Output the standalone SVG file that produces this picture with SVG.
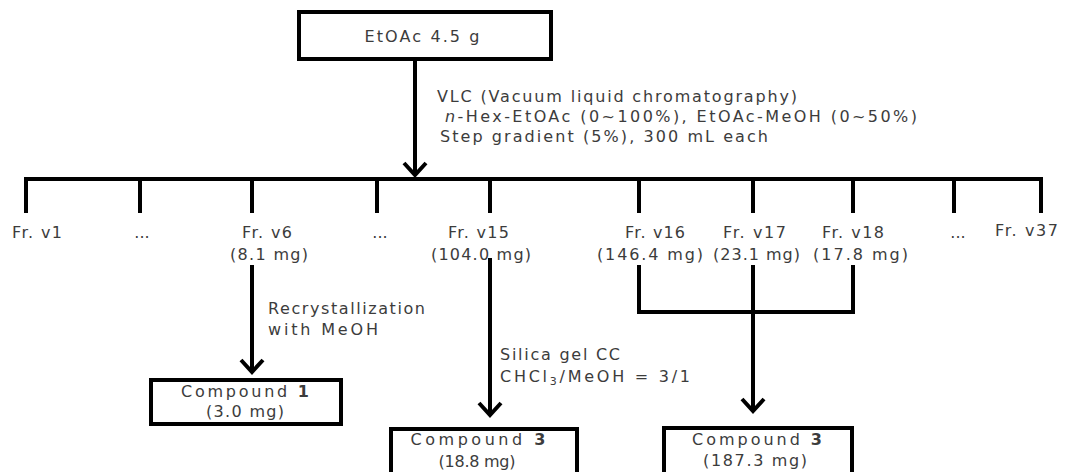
<svg xmlns="http://www.w3.org/2000/svg" width="1069" height="472" viewBox="0 0 1069 472">
<style>
text{font-family:"DejaVu Sans","Liberation Sans",sans-serif;font-size:16px;fill:#3c3c3c}
.m{text-anchor:middle}
.box{fill:#fff;stroke:#000;stroke-width:4}
.ln{fill:none;stroke:#000;stroke-width:4;stroke-linejoin:miter}
</style>
<defs>
<marker id="ah" markerUnits="userSpaceOnUse" viewBox="-16 -14 20 28" markerWidth="20" markerHeight="28" refX="0" refY="0" orient="auto">
<path d="M-12,-11 L0,0 L-12,11" fill="none" stroke="#000" stroke-width="4"/>
</marker>
</defs>
<rect width="1069" height="472" fill="#fff"/>
<g id="connectors">
<line class="ln" x1="415" y1="61" x2="415" y2="175" marker-end="url(#ah)"/>
<path class="ln" d="M26,213 V179 H1041 V213"/>
<line class="ln" x1="140" y1="179" x2="140" y2="213"/>
<line class="ln" x1="252" y1="179" x2="252" y2="213"/>
<line class="ln" x1="377" y1="179" x2="377" y2="213"/>
<line class="ln" x1="490" y1="179" x2="490" y2="213"/>
<line class="ln" x1="639" y1="179" x2="639" y2="213"/>
<line class="ln" x1="753" y1="179" x2="753" y2="213"/>
<line class="ln" x1="853" y1="179" x2="853" y2="213"/>
<line class="ln" x1="954" y1="179" x2="954" y2="213"/>
<line class="ln" x1="252" y1="265" x2="252" y2="372" marker-end="url(#ah)"/>
<line class="ln" x1="490" y1="258" x2="490" y2="415" marker-end="url(#ah)"/>
<path class="ln" d="M639,265 V312 H853 V265"/>
<line class="ln" x1="753" y1="265" x2="753" y2="411" marker-end="url(#ah)"/>
</g>
<g id="etoac">
<rect class="box" x="299" y="12" width="252" height="47"/>
<text class="m" x="422" y="42" textLength="115">EtOAc 4.5 g</text>
</g>
<g id="vlc-label">
<text x="437" y="102" textLength="360">VLC (Vacuum liquid chromatography)</text>
<text x="445" y="122" textLength="472"><tspan font-style="italic">n</tspan>-Hex-EtOAc (0~100%), EtOAc-MeOH (0~50%)</text>
<text x="440" y="142" textLength="328">Step gradient (5%), 300 mL each</text>
</g>
<g id="fr-v1"><text x="12" y="238" textLength="50">Fr. v1</text></g>
<g id="dots1"><text class="m" x="142" y="238">...</text></g>
<g id="fr-v6">
<text x="242" y="238" textLength="50">Fr. v6</text>
<text x="230" y="260" textLength="78">(8.1 mg)</text>
</g>
<g id="dots2"><text class="m" x="380" y="238">...</text></g>
<g id="fr-v15">
<text x="448" y="238" textLength="61">Fr. v15</text>
<text x="431" y="260" textLength="100">(104.0 mg)</text>
</g>
<g id="fr-v16">
<text x="625" y="238" textLength="60">Fr. v16</text>
<text x="597" y="260" textLength="106">(146.4 mg)</text>
</g>
<g id="fr-v17">
<text x="723" y="238" textLength="63">Fr. v17</text>
<text x="713" y="260" textLength="87">(23.1 mg)</text>
</g>
<g id="fr-v18">
<text x="822" y="238" textLength="62">Fr. v18</text>
<text x="813" y="260" textLength="95">(17.8 mg)</text>
</g>
<g id="dots3"><text class="m" x="958" y="238">...</text></g>
<g id="fr-v37"><text x="995" y="236" textLength="63">Fr. v37</text></g>
<g id="recryst-label">
<text x="268" y="314" textLength="157">Recrystallization</text>
<text x="268" y="335" textLength="110">with MeOH</text>
</g>
<g id="silica-label">
<text x="500" y="360" textLength="120">Silica gel CC</text>
<text x="500" y="382" textLength="190">CHCl<tspan font-size="11" dy="3">3</tspan><tspan dy="-3">/MeOH = 3/1</tspan></text>
</g>
<g id="compound1">
<rect class="box" x="151" y="380" width="190" height="44"/>
<text class="m" x="245" y="397" textLength="128">Compound <tspan font-weight="bold">1</tspan></text>
<text class="m" x="245" y="417" textLength="78">(3.0 mg)</text>
</g>
<g id="compound3a">
<rect class="box" x="391" y="429" width="186" height="60"/>
<text class="m" x="478" y="445" textLength="135">Compound <tspan font-weight="bold">3</tspan></text>
<text class="m" x="477" y="467" textLength="77">(18.8 mg)</text>
</g>
<g id="compound3b">
<rect class="box" x="664" y="428" width="188" height="60"/>
<text class="m" x="757" y="445" textLength="130">Compound <tspan font-weight="bold">3</tspan></text>
<text class="m" x="755" y="466" textLength="104">(187.3 mg)</text>
</g>
</svg>
